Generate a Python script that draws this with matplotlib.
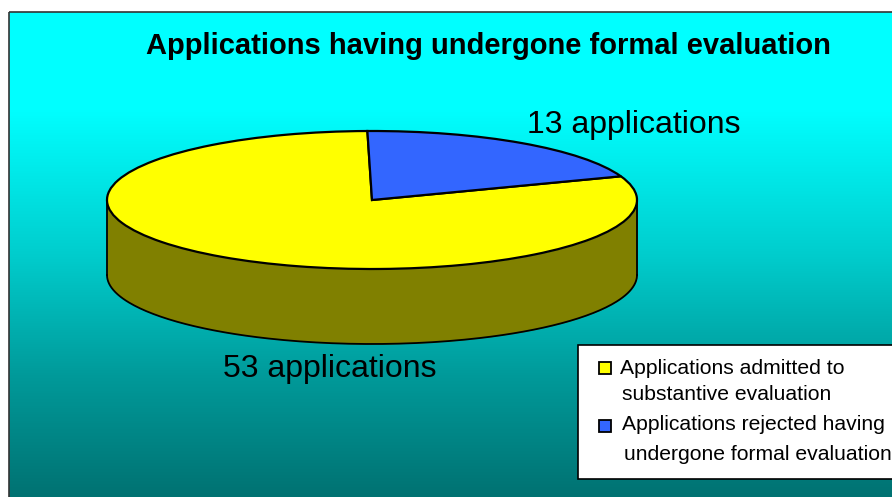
#!/usr/bin/env python3
"""Flat 3D-look pie: applications having undergone formal evaluation."""
import matplotlib

matplotlib.use("Agg")
import matplotlib.pyplot as plt  # noqa: E402
import numpy as np  # noqa: E402
from matplotlib.colors import LinearSegmentedColormap  # noqa: E402
from matplotlib.patches import Rectangle  # noqa: E402

plt.rcParams["font.family"] = ["Liberation Sans", "DejaVu Sans"]

TITLE = "Applications having undergone formal evaluation"
COUNTS = [53, 13]
COLORS = ["#ffff00", "#3366ff"]
SLICE_LABELS = ["53 applications", "13 applications"]
LEGEND_LINES = [
    ["Applications admitted to", "substantive evaluation"],
    ["Applications rejected having", "undergone formal evaluation"],
]
SIDE = "#808000"

W, H = 892, 497
CX, CY, RX, RY = 372, 200, 265, 69  # pie top ellipse [px]
DEPTH = 75 / RY


fig = plt.figure(figsize=(W / 100, H / 100), dpi=100, facecolor="white")

# background + annotations live in a pixel-coordinate axes
ax = fig.add_axes([0, 0, 1, 1])
ax.set_xlim(0, W)
ax.set_ylim(H, 0)
ax.axis("off")

cmap = LinearSegmentedColormap.from_list(
    "bg", [(0.0, "#00ffff"), (0.2, "#00ffff"), (0.5, "#00cdcd"), (0.75, "#009a9a"), (1.0, "#007272")])
grad = np.linspace(0, 1, 256).reshape(-1, 1)
ax.imshow(grad, cmap=cmap, extent=(9, W, H, 12), aspect="auto", zorder=0)
ax.set_xlim(0, W)
ax.set_ylim(H, 0)
ax.plot([9, 9], [H, 12], color="#333333", lw=1.2, zorder=1, solid_capstyle="butt")
ax.plot([9, W], [12, 12], color="#333333", lw=1.2, zorder=1, solid_capstyle="butt")

# pie axes: one data unit = RX px across, RY px down
pax = fig.add_axes([0, 0, 1, 1])
pax.patch.set_alpha(0)
t = np.linspace(np.pi, 2 * np.pi, 200)
pax.fill_between(np.cos(t), np.sin(t), np.sin(t) - DEPTH, color=SIDE, lw=0, zorder=1)
pax.plot(np.cos(t), np.sin(t) - DEPTH, color="black", lw=1.3, zorder=2)
pax.plot([-1, -1], [0, -DEPTH], color="black", lw=1.3, zorder=2)
pax.plot([1, 1], [0, -DEPTH], color="black", lw=1.3, zorder=2)
pax.pie(COUNTS, colors=COLORS, startangle=91, counterclock=True,
        wedgeprops={"edgecolor": "black", "linewidth": 1.6, "zorder": 3})
pax.set_aspect("auto")
pax.set_xlim((0 - CX) / RX, (W - CX) / RX)
pax.set_ylim((CY - H) / RY, CY / RY)
pax.axis("off")

tax = fig.add_axes([0, 0, 1, 1])
tax.set_xlim(0, W)
tax.set_ylim(H, 0)
tax.axis("off")

tax.text(488, 46, TITLE, fontsize=21, fontweight="bold", ha="center", va="center")
tax.text(330, 369, SLICE_LABELS[0], fontsize=23, ha="center", va="center")
tax.text(634, 125, SLICE_LABELS[1], fontsize=23, ha="center", va="center")

# legend box runs off the right edge like the source
tax.add_patch(Rectangle((578, 345), 330, 134, fc="white", ec="black", lw=1.2, zorder=2))
ys = [(368, 395), (425, 455)]
xs = [(620, 622), (622, 624)]
boxes = [362, 420]
for color, lines, yy, xx, by in zip(COLORS, LEGEND_LINES, ys, xs, boxes):
    tax.add_patch(Rectangle((599, by), 12, 12, fc=color, ec="black", lw=1.3, zorder=3))
    for line, y, x in zip(lines, yy, xx):
        tax.text(x, y, line, fontsize=15.2, ha="left", va="center", zorder=3, clip_on=True)

fig.savefig("out.png", dpi=100)
plt.close(fig)
